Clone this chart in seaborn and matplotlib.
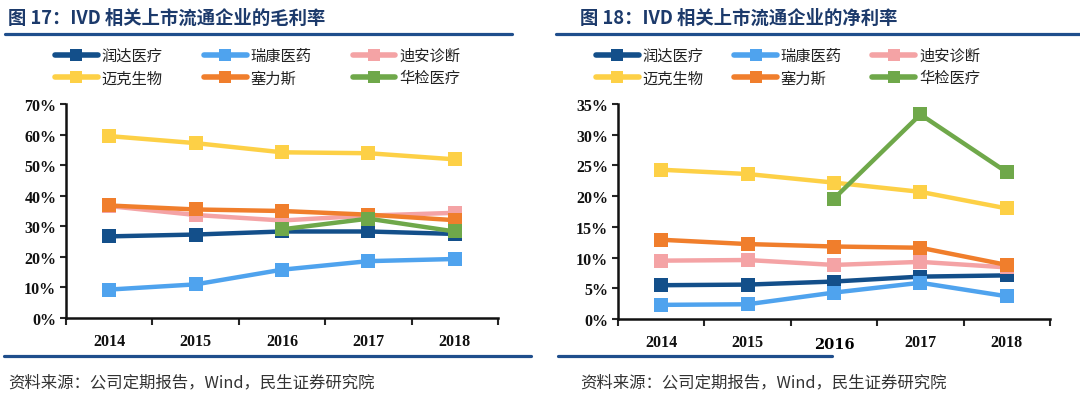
import numpy as np
import pandas as pd
import matplotlib
matplotlib.use('Agg')
import matplotlib.pyplot as plt
import seaborn as sns
from matplotlib.lines import Line2D
from matplotlib.ticker import PercentFormatter, FixedLocator
from matplotlib.transforms import blended_transform_factory

years = [2014, 2015, 2016, 2017, 2018]
companies = ['润达医疗', '瑞康医药', '迪安诊断', '迈克生物', '塞力斯', '华检医疗']
colors = ['#134F8A', '#4FA3EE', '#F4A3A5', '#FDD046', '#F07E2C', '#6FA84A']

# 毛利率 (%)
gross_runda = [26.7, 27.3, 28.3, 28.3, 27.5]
gross_ruikang = [9.3, 11.0, 15.8, 18.6, 19.3]
gross_dian = [36.6, 33.7, 31.9, 33.5, 34.4]
gross_maike = [59.5, 57.2, 54.2, 53.9, 51.9]
gross_sailisi = [36.8, 35.5, 35.0, 33.8, 32.0]
gross_huajian = [np.nan, np.nan, 29.0, 32.5, 28.3]

# 净利率 (%)
net_runda = [5.5, 5.6, 6.1, 6.9, 7.1]
net_ruikang = [2.3, 2.4, 4.3, 5.9, 3.7]
net_dian = [9.5, 9.6, 8.8, 9.3, 8.4]
net_maike = [24.3, 23.6, 22.2, 20.7, 18.0]
net_sailisi = [12.9, 12.2, 11.8, 11.6, 8.8]
net_huajian = [np.nan, np.nan, 19.6, 33.3, 23.9]

gross = [gross_runda, gross_ruikang, gross_dian, gross_maike, gross_sailisi, gross_huajian]
net = [net_runda, net_ruikang, net_dian, net_maike, net_sailisi, net_huajian]


def to_long(series):
    rows = []
    for name, vals in zip(companies, series):
        for y, v in zip(years, vals):
            rows.append([name, y, v])
    return pd.DataFrame(rows, columns=['company', 'year', 'value'])


sns.set_style('white')
plt.rcParams['font.family'] = ['Noto Sans CJK SC', 'DejaVu Sans']

W, H = 1080, 402
fig = plt.figure(figsize=(W / 100, H / 100), dpi=100)


def px(x0, y0, x1, y1):
    return [x0 / W, 1 - y1 / H, (x1 - x0) / W, (y1 - y0) / H]


navy = '#1C3A6B'
serif = ['Liberation Serif', 'DejaVu Serif']


def panel(rect, series, ymax, ystep, title, tx, line_x, bot_x, src_x, leg_x, colsp):
    ax = fig.add_axes(px(*rect))
    df = to_long(series)
    sns.lineplot(data=df, x='year', y='value', hue='company', hue_order=companies,
                 palette=colors, marker='s', markersize=9.5, markeredgewidth=0,
                 linewidth=3.2, errorbar=None, legend=False, ax=ax)
    ax.set_xlim(2013.5, 2018.5)
    ax.set_ylim(0, ymax)
    ax.set_xlabel('')
    ax.set_ylabel('')
    ax.set_yticks(np.arange(0, ymax + 0.01, ystep))
    ax.yaxis.set_major_formatter(PercentFormatter(decimals=0))
    ax.set_xticks(years)
    ax.set_xticklabels([str(y) for y in years])
    ax.xaxis.set_minor_locator(FixedLocator([2013.5, 2014.5, 2015.5, 2016.5, 2017.5, 2018.5]))
    ax.tick_params(axis='x', which='major', length=0, pad=11)
    ax.tick_params(axis='x', which='minor', length=5, width=1.5, direction='out', bottom=True)
    ax.tick_params(axis='y', length=4, width=1.5, direction='out', left=True, pad=3)
    for lbl in ax.get_xticklabels() + ax.get_yticklabels():
        lbl.set_family(serif)
        lbl.set_fontweight('bold')
        lbl.set_fontsize(11.5)
        lbl.set_color('#111111')
    for s in ['top', 'right']:
        ax.spines[s].set_visible(False)
    for s in ['left', 'bottom']:
        ax.spines[s].set_linewidth(1.8)
        ax.spines[s].set_color('#111111')

    fig.text(tx / W, 1 - 18 / H, title, fontsize=13.2, fontweight='bold', color=navy,
             va='center', ha='left')
    fig.add_artist(Line2D([line_x[0] / W, line_x[1] / W], [1 - 35 / H] * 2,
                          transform=fig.transFigure, color='#1F4E8C', lw=2.3))
    fig.add_artist(Line2D([bot_x[0] / W, bot_x[1] / W], [1 - 357 / H] * 2,
                          transform=fig.transFigure, color='#1F4E8C', lw=2.3))
    fig.text(src_x / W, 1 - 383 / H, '资料来源：公司定期报告，Wind，民生证券研究院',
             fontsize=11.8, color='#333333', va='center', ha='left')

    handles = [Line2D([], [], color=c, marker='s', markersize=8, markeredgewidth=0, lw=4)
               for c in colors]
    order = [0, 3, 1, 4, 2, 5]
    fig.legend([handles[i] for i in order], [companies[i] for i in order],
               loc='upper left', bbox_to_anchor=(leg_x / W, 1 - 48 / H),
               bbox_transform=fig.transFigure, ncol=3, frameon=False,
               borderaxespad=0, borderpad=0, handlelength=2.8, handletextpad=0.25,
               columnspacing=colsp, labelspacing=0.35, fontsize=11,
               labelcolor='#222222')
    return ax


ax1 = panel((66, 105, 498, 319), gross, 70, 10, '图 17：IVD 相关上市流通企业的毛利率',
            8, (5, 512), (4, 531), 8, 55, 2.7)
ax2 = panel((618, 105, 1050, 320), net, 35, 5, '图 18：IVD 相关上市流通企业的净利率',
            580, (556, 1080), (558, 832), 580, 596, 2.0)

# the 2016 label on the right panel sits a bit lower in a plain font
labels = ax2.get_xticklabels()
labels[2].set_text('')
ax2.set_xticklabels([l.get_text() for l in labels])
for lbl in ax2.get_xticklabels():
    lbl.set_family(serif)
    lbl.set_fontweight('bold')
    lbl.set_fontsize(11.5)
    lbl.set_color('#111111')
tr = blended_transform_factory(ax2.transData, fig.transFigure)
ax2.text(2016, 1 - 345 / H, '2016', transform=tr, ha='center', va='center',
         family=['DejaVu Serif'], fontweight='bold', fontsize=10.5, color='#000000')

fig.savefig('out.png', dpi=100)
